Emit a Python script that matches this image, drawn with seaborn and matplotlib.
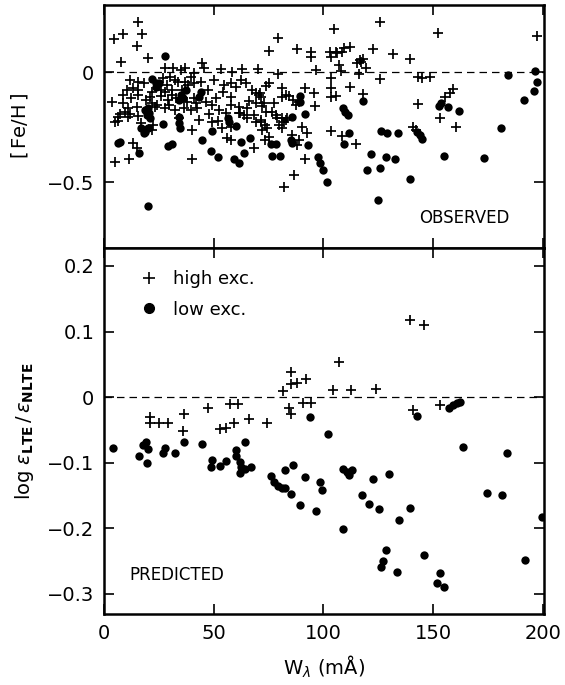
import matplotlib
matplotlib.use("Agg")
import matplotlib.pyplot as plt
import pandas as pd
import seaborn as sns
from matplotlib.lines import Line2D
from matplotlib.ticker import FixedLocator, FuncFormatter

# ---- observed [Fe/H], high excitation lines (crosses) ----
obs_high_w = [
    15.3, 4.4, 8.5, 17.5, 15.0, 7.7, 20.1, 79.2, 75.2, 88.0, 94.4, 94.4, 102.9, 105.5,
    106.2, 108.5, 109.2, 112.0, 103.2, 105.0, 125.9, 152.0, 197.4, 122.4, 131.7, 139.2,
    116.5, 118.0, 115.3, 117.1, 119.5, 107.0, 108.0, 116.0, 125.9, 103.6, 103.2, 103.6,
    105.5, 112.0, 118.0, 142.9, 144.9, 148.3, 143.0, 159.2, 157.7, 155.5, 152.9, 160.5,
    103.2, 108.5, 115.0, 140.8, 142.3, 27.7, 31.5, 35.3, 11.8, 15.6, 18.3, 10.3, 13.3,
    15.6, 8.8, 15.6, 3.5, 8.8, 10.8, 9.5, 11.8, 11.0, 7.3, 6.5, 5.0, 15.6, 14.9, 21.7,
    23.2, 27.7, 32.3, 29.2, 30.8, 33.0, 27.0, 30.0, 32.3, 33.8, 26.2, 27.7, 30.8, 21.7,
    20.9, 13.3, 14.9, 5.0, 11.4, 21.7, 22.4, 44.8, 45.6, 36.8, 41.0, 53.2, 58.5, 63.0,
    70.1, 39.5, 36.8, 41.0, 44.1, 50.1, 54.7, 57.7, 64.5, 62.3, 67.6, 69.1, 70.6, 57.7,
    41.0, 38.0, 41.8, 46.4, 49.4, 36.5, 39.5, 42.6, 52.4, 57.7, 61.5, 61.5, 63.8, 65.3,
    68.3, 43.3, 49.4, 52.0, 53.9, 40.3, 56.2, 57.7, 68.3, 40.3, 69.1, 71.4, 79.4, 96.4,
    75.2, 73.6, 81.2, 83.0, 81.2, 84.2, 91.5, 95.6, 70.9, 71.4, 69.1, 72.9, 72.1, 87.6,
    88.8, 96.0, 73.6, 76.7, 78.2, 79.0, 80.9, 82.0, 82.7, 83.5, 71.4, 73.3, 74.4, 72.1,
    79.7, 81.2, 75.2, 73.3, 92.6, 85.5, 88.8, 88.0, 91.5, 86.5, 82.0, 6.2,
    24.5, 25.8, 28.9, 19.0, 17.0, 12.5, 47.5, 48.0, 51.0, 55.5, 60.0, 66.0, 35.5, 38.5,
    24.0, 29.5, 34.0, 58.0, 65.0, 77.5, 86.0, 90.0, 62.0, 54.0,
]
obs_high_feh = [
    0.229, 0.150, 0.173, 0.173, 0.120, 0.047, 0.065, 0.153, 0.097, 0.103, 0.092, 0.070,
    0.092, 0.092, 0.085, 0.092, 0.108, 0.112, 0.070, 0.194, 0.226, 0.176, 0.164, 0.103,
    0.082, 0.058, 0.055, 0.058, 0.040, 0.047, 0.017, 0.032, 0.006, -0.009, -0.033,
    -0.029, -0.074, -0.112, -0.109, -0.070, -0.100, -0.021, -0.026, -0.021, -0.145,
    -0.079, -0.097, -0.112, -0.210, -0.248, -0.267, -0.291, -0.327, -0.248, -0.264,
    0.017, 0.017, 0.009, -0.036, -0.044, -0.049, -0.082, -0.074, -0.082, -0.105, -0.105,
    -0.138, -0.142, -0.162, -0.180, -0.192, -0.203, -0.192, -0.223, -0.226, -0.200,
    -0.158, -0.142, -0.158, -0.165, -0.173, -0.127, -0.105, -0.120, -0.029, -0.021,
    -0.036, -0.044, -0.082, -0.090, -0.082, -0.090, -0.112, -0.324, -0.347, -0.408,
    -0.395, -0.264, -0.241, 0.040, 0.017, 0.020, -0.006, 0.012, 0.001, 0.012, 0.012,
    -0.021, -0.044, -0.051, -0.044, -0.036, -0.059, -0.051, -0.051, -0.036, -0.082,
    -0.097, -0.105, -0.112, -0.117, -0.135, -0.142, -0.135, -0.150, -0.165, -0.173,
    -0.165, -0.173, -0.150, -0.158, -0.188, -0.195, -0.210, -0.195, -0.218, -0.229,
    -0.223, -0.256, -0.264, -0.298, -0.309, -0.347, -0.395, -0.226, -0.218, -0.010,
    0.009, -0.051, -0.062, -0.074, -0.105, -0.112, -0.108, -0.071, -0.097, -0.097,
    -0.112, -0.142, -0.142, -0.153, -0.150, -0.138, -0.153, -0.183, -0.180, -0.195,
    -0.208, -0.210, -0.226, -0.218, -0.208, -0.226, -0.241, -0.256, -0.264, -0.241,
    -0.256, -0.294, -0.309, -0.279, -0.286, -0.309, -0.332, -0.395, -0.468, -0.524,
    -0.203,
    -0.060, -0.110, -0.060, -0.125, -0.230, -0.120, -0.080, -0.190, -0.120, -0.185,
    -0.070, -0.130, -0.080, -0.060, -0.150, -0.150, -0.210, -0.250, -0.165, -0.140,
    -0.125, -0.250, -0.185, -0.090,
]

# ---- observed [Fe/H], low excitation lines (dots) ----
obs_low_w = [
    27.7, 6.2, 7.4, 16.0, 19.9, 29.2, 31.2, 26.7, 34.2, 34.2, 34.6, 44.1, 43.3, 49.1,
    48.6, 51.9, 44.8, 56.5, 57.0, 60.3, 62.3, 66.5, 59.2, 61.5, 63.8, 89.1, 89.5, 91.8,
    85.8, 75.9, 78.2, 76.7, 80.1, 92.9, 85.0, 85.8, 97.6, 98.6, 99.9, 101.5, 21.7, 23.6,
    25.0, 23.9, 21.0, 20.6, 19.9, 18.3, 17.1, 18.6, 18.6, 19.4, 20.1, 34.2, 35.0, 35.8,
    37.3, 118.0, 109.0, 110.0, 111.2, 111.5, 109.2, 126.4, 129.0, 133.9, 121.8, 128.5,
    132.7, 119.9, 125.9, 139.2, 124.8, 142.6, 144.1, 145.1, 155.0, 152.4, 153.5, 156.5,
    161.8, 173.3, 180.9, 184.0, 191.4, 196.4, 197.1, 196.0,
]
obs_low_feh = [
    0.073, -0.324, -0.317, -0.370, -0.608, -0.336, -0.329, -0.238, -0.203, -0.233,
    -0.256, -0.089, -0.112, -0.268, -0.358, -0.388, -0.309, -0.210, -0.226, -0.245,
    -0.317, -0.298, -0.397, -0.412, -0.367, -0.109, -0.135, -0.191, -0.203, -0.329,
    -0.329, -0.382, -0.382, -0.332, -0.309, -0.324, -0.385, -0.415, -0.445, -0.500,
    -0.033, -0.051, -0.051, -0.067, -0.210, -0.188, -0.256, -0.279, -0.256, -0.271,
    -0.173, -0.195, -0.162, -0.127, -0.105, -0.120, -0.082, -0.130, -0.165, -0.180,
    -0.195, -0.276, -0.327, -0.268, -0.279, -0.279, -0.373, -0.385, -0.397, -0.445,
    -0.438, -0.486, -0.582, -0.271, -0.286, -0.306, -0.382, -0.155, -0.142, -0.158,
    -0.177, -0.392, -0.253, -0.014, -0.127, 0.005, -0.047, -0.085,
]

# ---- predicted log eps_LTE / eps_NLTE ----
pred_high_w = [
    20.9, 20.9, 25.2, 29.2, 36.4, 36.1, 47.4, 57.3, 61.0, 53.0, 55.8, 59.1, 65.9, 74.2,
    81.6, 85.4, 85.3, 88.0, 92.2, 84.5, 85.3, 90.6, 94.1, 104.3, 107.0, 112.6, 124.0,
    139.5, 145.6, 141.0, 152.9,
]
pred_high_dlog = [
    -0.031, -0.040, -0.040, -0.040, -0.026, -0.051, -0.017, -0.010, -0.010, -0.049,
    -0.047, -0.040, -0.034, -0.040, 0.010, 0.039, 0.020, 0.021, 0.027, -0.017, -0.026,
    -0.009, -0.009, 0.011, 0.054, 0.011, 0.012, 0.117, 0.110, -0.019, -0.012,
]
pred_low_w = [
    4.2, 16.1, 17.9, 19.1, 20.1, 19.8, 27.0, 28.0, 32.3, 36.5, 44.7, 49.2, 48.6, 52.7,
    55.8, 64.4, 60.0, 60.3, 61.8, 62.6, 61.8, 64.4, 67.1, 75.9, 77.4, 79.2, 81.2, 82.3,
    86.0, 82.5, 85.0, 89.2, 91.7, 94.0, 96.8, 98.6, 99.2, 102.0, 109.0, 110.5, 111.5,
    113.0, 109.0, 117.6, 120.6, 122.4, 125.2, 129.7, 134.5, 128.6, 127.1, 126.2, 133.5,
    139.5, 145.6, 153.2, 151.7, 155.1, 142.6, 157.0, 159.0, 160.8, 162.0, 163.5, 174.7,
    181.2, 183.5, 191.8, 199.4,
]
pred_low_dlog = [
    -0.077, -0.090, -0.073, -0.069, -0.079, -0.101, -0.086, -0.078, -0.085, -0.069,
    -0.072, -0.096, -0.107, -0.105, -0.098, -0.068, -0.081, -0.090, -0.099, -0.106,
    -0.116, -0.109, -0.106, -0.121, -0.129, -0.136, -0.138, -0.112, -0.104, -0.138,
    -0.148, -0.165, -0.122, -0.031, -0.174, -0.129, -0.142, -0.056, -0.110, -0.114,
    -0.119, -0.112, -0.202, -0.150, -0.163, -0.125, -0.170, -0.118, -0.187, -0.233,
    -0.250, -0.260, -0.267, -0.169, -0.241, -0.268, -0.283, -0.289, -0.029, -0.016,
    -0.012, -0.009, -0.007, -0.076, -0.146, -0.150, -0.085, -0.248, -0.183,
]

x_ticks = [0, 50, 100, 150, 200]
top_y_ticks = [0, -0.5]
bottom_y_ticks = [0.2, 0.1, 0, -0.1, -0.2, -0.3]

obs_high = pd.DataFrame({"w": obs_high_w, "v": obs_high_feh})
obs_low = pd.DataFrame({"w": obs_low_w, "v": obs_low_feh})
pred_high = pd.DataFrame({"w": pred_high_w, "v": pred_high_dlog})
pred_low = pd.DataFrame({"w": pred_low_w, "v": pred_low_dlog})

sns.set_style("ticks")
plt.rcParams["font.family"] = ["DejaVu Sans"]
plt.rcParams["axes.unicode_minus"] = True
for key in ["text.color", "axes.edgecolor", "axes.labelcolor", "xtick.color", "ytick.color"]:
    plt.rcParams[key] = "black"

fig = plt.figure(figsize=(5.65, 6.85), dpi=100)
ax_top = fig.add_axes([0.184, 0.638, 0.779, 0.3547])
ax_bot = fig.add_axes([0.184, 0.1036, 0.779, 0.5344])

cross_kw = dict(marker="+", color="black", s=44, linewidth=1.25)
dot_kw = dict(marker="o", color="black", s=36, edgecolor="black", linewidth=0)


def fmt(v, pos):
    return f"{v:g}".replace("-", "\u2212")


for ax, hi, lo in [(ax_top, obs_high, obs_low), (ax_bot, pred_high, pred_low)]:
    ax.axhline(0, color="black", lw=0.9, ls=(0, (6, 4)), zorder=1)
    sns.scatterplot(data=hi, x="w", y="v", ax=ax, legend=False, zorder=3, **cross_kw)
    sns.scatterplot(data=lo, x="w", y="v", ax=ax, legend=False, zorder=3, **dot_kw)
    ax.set_xlim(0, 200.5)
    ax.xaxis.set_major_locator(FixedLocator(x_ticks))
    ax.tick_params(direction="in", length=7, width=1.2, top=True, right=True,
                   labelsize=14, pad=7, colors="black")
    for s in ax.spines.values():
        s.set_linewidth(1.8)
        s.set_color("black")
    ax.set_xlabel("")
    ax.yaxis.set_major_formatter(FuncFormatter(fmt))

ax_top.set_ylim(-0.80, 0.305)
ax_top.yaxis.set_major_locator(FixedLocator(top_y_ticks))
ax_top.tick_params(labelbottom=False)
ax_top.set_ylabel(r"$\left[\,\mathrm{Fe/H}\,\right]$", fontsize=14, labelpad=12)
ax_top.text(0.716, 0.123, "OBSERVED", transform=ax_top.transAxes,
            fontsize=12, va="center", ha="left")

ax_bot.set_ylim(-0.331, 0.2275)
ax_bot.yaxis.set_major_locator(FixedLocator(bottom_y_ticks))
ax_bot.xaxis.set_major_formatter(FuncFormatter(fmt))
ax_bot.set_ylabel(r"log $\epsilon_{\mathbf{LTE}}\,/\,\epsilon_{\mathbf{NLTE}}$",
                  fontsize=14, labelpad=8)
ax_bot.set_xlabel(r"W$_\lambda$ (m$\mathrm{\AA}$)", fontsize=14, labelpad=8)
ax_bot.text(0.057, 0.107, "PREDICTED", transform=ax_bot.transAxes,
            fontsize=12, va="center", ha="left")

handles = [
    Line2D([], [], marker="+", color="black", ls="", markersize=9, mew=1.2),
    Line2D([], [], marker="o", color="black", ls="", markersize=7),
]
ax_bot.legend(handles, ["high exc.", "low exc."], loc="upper left",
              bbox_to_anchor=(0.082, 0.94), frameon=False, fontsize=13,
              handlelength=1.0, handletextpad=0.8, labelspacing=0.7,
              borderpad=0, borderaxespad=0)

fig.savefig("out.png", dpi=100, facecolor="white")
